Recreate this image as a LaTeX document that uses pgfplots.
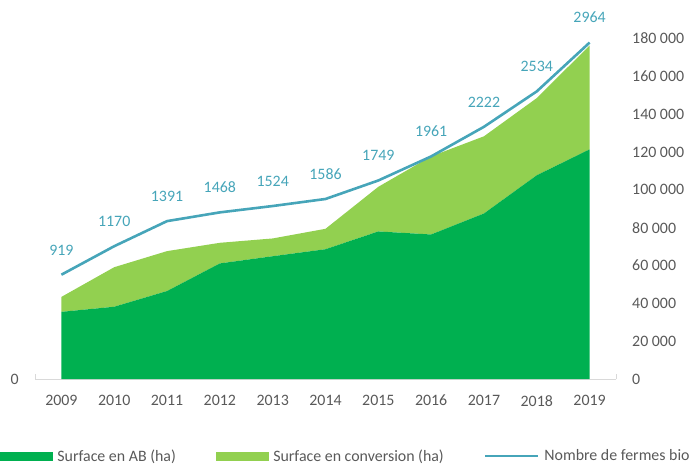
\documentclass[border=0pt]{standalone}
\usepackage{pgfplots}
\pgfplotsset{compat=1.18}
\usepackage{pgfplotstable}
\usepackage{fontspec}
\setmainfont{Carlito}
\definecolor{ab}{HTML}{00B050}
\definecolor{conv}{HTML}{92D050}
\definecolor{fermes}{HTML}{46A5B9}
\definecolor{tickgray}{HTML}{595959}
\definecolor{axgray}{HTML}{D9D9D9}
\newcommand{\chf}{\fontsize{15.9bp}{18bp}\selectfont}
\pgfplotstableread{
x year ab conv fermes
0 2009 35500 7900 919
1 2010 38200 20900 1170
2 2011 46500 21100 1391
3 2012 61100 10900 1468
4 2013 64900 9400 1524
5 2014 68600 10800 1586
6 2015 78000 23600 1749
7 2016 76400 41300 1961
8 2017 87500 40800 2222
9 2018 107700 40800 2534
10 2019 121400 54900 2964
}\data
\begin{document}
\begin{tikzpicture}
\useasboundingbox (-35bp,-88bp) rectangle (654bp,379bp);
\begin{axis}[
  at={(0,0)}, anchor=south west,
  scale only axis, width=581bp, height=340.5bp,
  xmin=-0.5, xmax=10.5, ymin=0, ymax=180000,
  axis y line*=right, axis x line*=bottom,
  x axis line style={draw=axgray, line width=1bp},
  y axis line style={draw=none},
  xtick={0,...,10}, xticklabels={2009,2010,2011,2012,2013,2014,2015,2016,2017,2018,2019},
  minor xtick={-0.5,0.5,...,10.5},
  xtick style={draw=none},
  minor x tick style={draw=axgray, line width=1bp},
  minor tick length=5bp,
  ytick={0,20000,40000,60000,80000,100000,120000,140000,160000,180000},
  yticklabels={0,20 000,40 000,60 000,80 000,100 000,120 000,140 000,160 000,180 000},
  scaled y ticks=false,
  ytick style={draw=none},
  tick label style={font=\chf, text=tickgray},
  yticklabel style={anchor=west, inner sep=0pt, xshift=16bp},
  xticklabel style={inner sep=0pt, yshift=-16bp},
  stack plots=y,
  clip=false,
]
\addplot[fill=ab, draw=none] table[x=x, y=ab] {\data} \closedcycle;
\addplot[fill=conv, draw=none] table[x=x, y=conv] {\data} \closedcycle;
\end{axis}
\begin{axis}[
  at={(0,0)}, anchor=south west,
  scale only axis, width=581bp, height=340.5bp,
  xmin=-0.5, xmax=10.5, ymin=0, ymax=3000,
  axis y line*=left, axis x line=none,
  y axis line style={draw=none},
  ytick={0}, yticklabels={0}, ytick style={draw=none},
  scaled y ticks=false,
  tick label style={font=\chf, text=tickgray},
  yticklabel style={anchor=east, inner sep=0pt, xshift=-16bp},
  clip=false,
  legend columns=3,
  legend style={at={(-35bp,-77bp)}, anchor=west, draw=none, fill=none,
    font=\chf, text=tickgray, inner sep=0pt, outer sep=0pt,
    /tikz/every even column/.append style={column sep=40bp},
    nodes={inner sep=0pt}},
  legend cell align=left,
]
\addlegendimage{legend image code/.code={\fill[ab] (3bp,-4bp) rectangle (55bp,4bp);}}
\addlegendentry{\hspace{5bp}Surface en AB (ha)}
\addlegendimage{legend image code/.code={\fill[conv] (0bp,-4bp) rectangle (52bp,4bp);}}
\addlegendentry{\hspace{5bp}Surface en conversion (ha)}
\addlegendimage{legend image code/.code={\draw[fermes, line width=2.6bp] (0bp,0bp) -- (53bp,0bp);}}
\addlegendentry{\hspace{5bp}Nombre de fermes bio}
\addplot[fermes, line width=2.6bp,
  nodes near coords, every node near coord/.append style={font=\chf, text=fermes, anchor=south, yshift=15bp},
  point meta=explicit symbolic] table[x=x, y=fermes, meta=fermes] {\data};
\end{axis}
\end{tikzpicture}
\end{document}
